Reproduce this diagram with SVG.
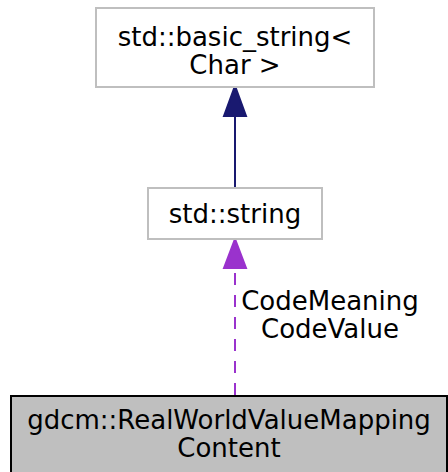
<svg xmlns="http://www.w3.org/2000/svg" width="448" height="472" viewBox="0 0 448 472">
<style>
text{font-family:"DejaVu Sans",sans-serif;font-size:26px;fill:#000;text-anchor:middle}
.box{fill:#fff;stroke:#bfbfbf;stroke-width:2}
</style>
<rect width="448" height="472" fill="#fff"/>
<g id="connectors">
<line x1="235" y1="188" x2="235" y2="114" stroke="#191970" stroke-width="2"/>
<path d="M224,116 L235,86 L246,116 z" fill="#191970" stroke="#191970" stroke-width="2"/>
<line x1="235" y1="395" x2="235" y2="268" stroke="#9a32cd" stroke-width="2" stroke-dasharray="12,10"/>
<path d="M224,268 L235,239 L246,268 z" fill="#9a32cd" stroke="#9a32cd" stroke-width="2"/>
<text x="330" y="310">CodeMeaning</text>
<text x="330" y="338">CodeValue</text>
</g>
<g id="node_basic_string">
<rect class="box" x="96" y="8" width="278" height="79"/>
<text x="235" y="46">std::basic_string&lt;</text>
<text x="235" y="74">Char &gt;</text>
</g>
<g id="node_string">
<rect class="box" x="148" y="188" width="174" height="51"/>
<text x="235" y="223">std::string</text>
</g>
<g id="node_mapping">
<rect x="11" y="396" width="436" height="80" fill="#bfbfbf" stroke="#000" stroke-width="2"/>
<text x="229" y="429">gdcm::RealWorldValueMapping</text>
<text x="229" y="457">Content</text>
</g>
</svg>
